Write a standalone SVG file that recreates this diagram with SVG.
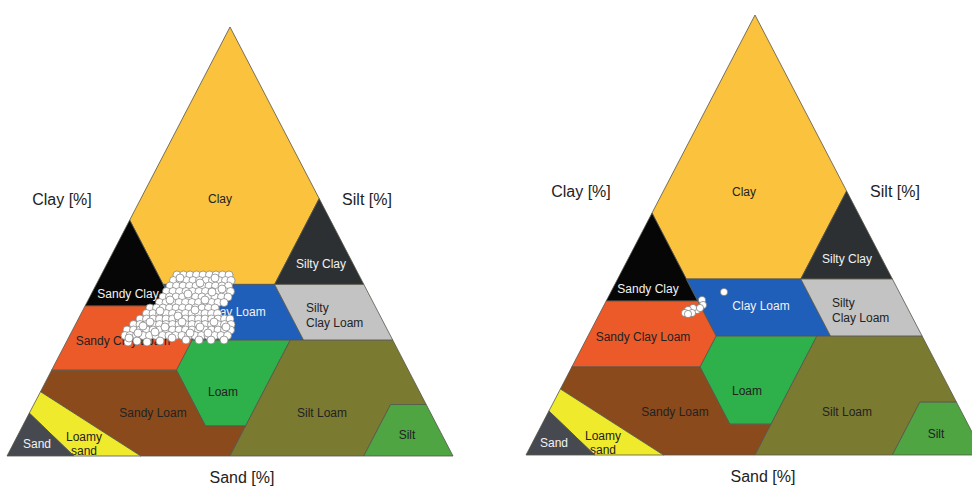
<svg xmlns="http://www.w3.org/2000/svg" width="972" height="486" viewBox="0 0 972 486">
<style>
.r{stroke:#55554a;stroke-width:0.8;stroke-linejoin:round}
.clay{fill:#FBC23E}.sic{fill:#2D3033}.sc{fill:#060606}.cl{fill:#1F5EB9}.sicl{fill:#C3C3C3}
.scl{fill:#EC5A29}.loam{fill:#2EB04B}.sl{fill:#8B4A1C}.sil{fill:#7B7A31}.si{fill:#4EA542}
.ls{fill:#F0EA2C}.sa{fill:#46494F}
text{font-family:"Liberation Sans",Arial,sans-serif}
.lb{font-size:12px;text-anchor:middle;fill:#222}
.lw{font-size:12px;text-anchor:middle;fill:#f2f2f2}
.ls2{font-size:12px;fill:#222}
.ax{font-size:16px;text-anchor:middle;fill:#222}
.pt{fill:#fff;stroke:#7a7a7a;stroke-width:0.7}
</style>
<rect width="972" height="486" fill="#fff"/>
<g id="left-triangle">
<g id="L-clay"><polygon class="r clay" points="163.1,284.4 129.7,220.1 230,27 319.2,198.6 274.6,284.4"/><text class="lb" x="220" y="203" font-size="11">Clay</text></g>
<g id="L-silty-clay"><polygon class="r sic" points="274.6,284.4 319.2,198.6 363.8,284.4"/><text class="lw" x="321" y="268">Silty Clay</text></g>
<g id="L-sandy-clay"><polygon class="r sc" points="85.1,305.9 129.7,220.1 163.1,284.4 174.3,305.9"/><text class="lw" x="128" y="298">Sandy Clay</text></g>
<g id="L-clay-loam"><polygon class="r cl" points="192.1,340.2 174.3,305.9 163.1,284.4 274.6,284.4 303.6,340.2"/><text class="lw" x="237" y="316" fill="#dde8ff">Clay Loam</text></g>
<g id="L-silty-clay-loam"><polygon class="r sicl" points="303.6,340.2 274.6,284.4 363.8,284.4 392.8,340.2"/><text class="ls2" x="306" y="312">Silty</text><text class="ls2" x="306" y="327">Clay Loam</text></g>
<g id="L-sandy-clay-loam"><polygon class="r scl" points="51.6,370.2 85.1,305.9 174.3,305.9 192.1,340.2 176.5,370.2"/><text class="lb" x="123" y="345" fill="#6a1006">Sandy Clay Loam</text></g>
<g id="L-loam"><polygon class="r loam" points="205.5,426 176.5,370.2 192.1,340.2 290.2,340.2 245.6,426"/><text class="lb" x="223" y="396" fill="#153515">Loam</text></g>
<g id="L-sandy-loam"><polygon class="r sl" points="40.5,391.7 51.6,370.2 176.5,370.2 205.5,426 245.6,426 230,456 140.8,456"/><text class="lb" x="153" y="417" fill="#2e1405">Sandy Loam</text></g>
<g id="L-silt-loam"><polygon class="r sil" points="230,456 245.6,426 290.2,340.2 392.8,340.2 426.2,404.5 390.6,404.5 363.8,456"/><text class="lb" x="322" y="417" fill="#222210">Silt Loam</text></g>
<g id="L-silt"><polygon class="r si" points="363.8,456 390.6,404.5 426.2,404.5 453,456"/><text class="lb" x="407" y="439" fill="#153515">Silt</text></g>
<g id="L-loamy-sand"><polygon class="r ls" points="29.3,413.1 40.5,391.7 140.8,456 73.9,456"/><text class="lb" x="84" y="441">Loamy</text><text class="lb" x="84" y="455">sand</text></g>
<g id="L-sand"><polygon class="r sa" points="7,456 29.3,413.1 73.9,456"/><text class="lw" x="37" y="448">Sand</text></g>
<g id="L-points">
<circle class="pt" r="4" cx="177" cy="275"/><circle class="pt" r="4" cx="183.5" cy="275"/><circle class="pt" r="4" cx="190" cy="275"/><circle class="pt" r="4" cx="196.5" cy="275"/><circle class="pt" r="4" cx="203" cy="275"/><circle class="pt" r="4" cx="209.5" cy="275"/><circle class="pt" r="4" cx="216" cy="275"/><circle class="pt" r="4" cx="222.5" cy="275"/><circle class="pt" r="4" cx="229" cy="275"/>
<circle class="pt" r="4" cx="173.5" cy="280.5"/><circle class="pt" r="4" cx="180" cy="280.5"/><circle class="pt" r="4" cx="186.5" cy="280.5"/><circle class="pt" r="4" cx="193" cy="280.5"/><circle class="pt" r="4" cx="199.5" cy="280.5"/><circle class="pt" r="4" cx="206" cy="280.5"/><circle class="pt" r="4" cx="212.5" cy="280.5"/><circle class="pt" r="4" cx="219" cy="280.5"/><circle class="pt" r="4" cx="225.5" cy="280.5"/><circle class="pt" r="4" cx="231" cy="280.5"/>
<circle class="pt" r="4" cx="170" cy="286"/><circle class="pt" r="4" cx="176.5" cy="286"/><circle class="pt" r="4" cx="183" cy="286"/><circle class="pt" r="4" cx="189.5" cy="286"/><circle class="pt" r="4" cx="196" cy="286"/><circle class="pt" r="4" cx="202.5" cy="286"/><circle class="pt" r="4" cx="209" cy="286"/><circle class="pt" r="4" cx="215.5" cy="286"/><circle class="pt" r="4" cx="222" cy="286"/><circle class="pt" r="4" cx="228.5" cy="286"/>
<circle class="pt" r="4" cx="166.5" cy="291.5"/><circle class="pt" r="4" cx="173" cy="291.5"/><circle class="pt" r="4" cx="179.5" cy="291.5"/><circle class="pt" r="4" cx="186" cy="291.5"/><circle class="pt" r="4" cx="192.5" cy="291.5"/><circle class="pt" r="4" cx="199" cy="291.5"/><circle class="pt" r="4" cx="205.5" cy="291.5"/><circle class="pt" r="4" cx="212" cy="291.5"/><circle class="pt" r="4" cx="218.5" cy="291.5"/><circle class="pt" r="4" cx="225" cy="291.5"/><circle class="pt" r="4" cx="230.5" cy="291.5"/>
<circle class="pt" r="4" cx="163" cy="297"/><circle class="pt" r="4" cx="169.5" cy="297"/><circle class="pt" r="4" cx="176" cy="297"/><circle class="pt" r="4" cx="182.5" cy="297"/><circle class="pt" r="4" cx="189" cy="297"/><circle class="pt" r="4" cx="195.5" cy="297"/><circle class="pt" r="4" cx="202" cy="297"/><circle class="pt" r="4" cx="208.5" cy="297"/><circle class="pt" r="4" cx="215" cy="297"/><circle class="pt" r="4" cx="221.5" cy="297"/><circle class="pt" r="4" cx="228" cy="297"/>
<circle class="pt" r="4" cx="159.5" cy="302.5"/><circle class="pt" r="4" cx="166" cy="302.5"/><circle class="pt" r="4" cx="172.5" cy="302.5"/><circle class="pt" r="4" cx="179" cy="302.5"/><circle class="pt" r="4" cx="185.5" cy="302.5"/><circle class="pt" r="4" cx="192" cy="302.5"/><circle class="pt" r="4" cx="198.5" cy="302.5"/><circle class="pt" r="4" cx="205" cy="302.5"/><circle class="pt" r="4" cx="211.5" cy="302.5"/><circle class="pt" r="4" cx="218" cy="302.5"/><circle class="pt" r="4" cx="224" cy="302.5"/>
<circle class="pt" r="4" cx="150" cy="308"/><circle class="pt" r="4" cx="156.5" cy="308"/><circle class="pt" r="4" cx="163" cy="308"/><circle class="pt" r="4" cx="169.5" cy="308"/><circle class="pt" r="4" cx="176" cy="308"/><circle class="pt" r="4" cx="182.5" cy="308"/><circle class="pt" r="4" cx="189" cy="308"/><circle class="pt" r="4" cx="195.5" cy="308"/><circle class="pt" r="4" cx="202" cy="308"/><circle class="pt" r="4" cx="208.5" cy="308"/><circle class="pt" r="4" cx="215" cy="308"/>
<circle class="pt" r="4" cx="146.5" cy="313.5"/><circle class="pt" r="4" cx="153" cy="313.5"/><circle class="pt" r="4" cx="159.5" cy="313.5"/><circle class="pt" r="4" cx="166" cy="313.5"/><circle class="pt" r="4" cx="172.5" cy="313.5"/><circle class="pt" r="4" cx="179" cy="313.5"/><circle class="pt" r="4" cx="185.5" cy="313.5"/><circle class="pt" r="4" cx="192" cy="313.5"/><circle class="pt" r="4" cx="198.5" cy="313.5"/><circle class="pt" r="4" cx="205" cy="313.5"/><circle class="pt" r="4" cx="211.5" cy="313.5"/><circle class="pt" r="4" cx="217.5" cy="313.5"/>
<circle class="pt" r="4" cx="140" cy="319"/><circle class="pt" r="4" cx="146.5" cy="319"/><circle class="pt" r="4" cx="153" cy="319"/><circle class="pt" r="4" cx="159.5" cy="319"/><circle class="pt" r="4" cx="166" cy="319"/><circle class="pt" r="4" cx="172.5" cy="319"/><circle class="pt" r="4" cx="179" cy="319"/><circle class="pt" r="4" cx="185.5" cy="319"/><circle class="pt" r="4" cx="192" cy="319"/><circle class="pt" r="4" cx="198.5" cy="319"/><circle class="pt" r="4" cx="205" cy="319"/><circle class="pt" r="4" cx="211.5" cy="319"/><circle class="pt" r="4" cx="218" cy="319"/><circle class="pt" r="4" cx="224.5" cy="319"/><circle class="pt" r="4" cx="230" cy="319"/>
<circle class="pt" r="4" cx="133.5" cy="324.5"/><circle class="pt" r="4" cx="140" cy="324.5"/><circle class="pt" r="4" cx="146.5" cy="324.5"/><circle class="pt" r="4" cx="153" cy="324.5"/><circle class="pt" r="4" cx="159.5" cy="324.5"/><circle class="pt" r="4" cx="166" cy="324.5"/><circle class="pt" r="4" cx="172.5" cy="324.5"/><circle class="pt" r="4" cx="179" cy="324.5"/><circle class="pt" r="4" cx="185.5" cy="324.5"/><circle class="pt" r="4" cx="192" cy="324.5"/><circle class="pt" r="4" cx="198.5" cy="324.5"/><circle class="pt" r="4" cx="205" cy="324.5"/><circle class="pt" r="4" cx="211.5" cy="324.5"/><circle class="pt" r="4" cx="218" cy="324.5"/><circle class="pt" r="4" cx="224.5" cy="324.5"/><circle class="pt" r="4" cx="231" cy="324.5"/>
<circle class="pt" r="4" cx="127" cy="330"/><circle class="pt" r="4" cx="133.5" cy="330"/><circle class="pt" r="4" cx="140" cy="330"/><circle class="pt" r="4" cx="146.5" cy="330"/><circle class="pt" r="4" cx="153" cy="330"/><circle class="pt" r="4" cx="159.5" cy="330"/><circle class="pt" r="4" cx="166" cy="330"/><circle class="pt" r="4" cx="172.5" cy="330"/><circle class="pt" r="4" cx="179" cy="330"/><circle class="pt" r="4" cx="185.5" cy="330"/><circle class="pt" r="4" cx="192" cy="330"/><circle class="pt" r="4" cx="198.5" cy="330"/><circle class="pt" r="4" cx="205" cy="330"/><circle class="pt" r="4" cx="211.5" cy="330"/><circle class="pt" r="4" cx="218" cy="330"/><circle class="pt" r="4" cx="224.5" cy="330"/><circle class="pt" r="4" cx="230.5" cy="330"/>
<circle class="pt" r="4" cx="125" cy="335.5"/><circle class="pt" r="4" cx="130" cy="335.5"/><circle class="pt" r="4" cx="136.5" cy="335.5"/><circle class="pt" r="4" cx="143" cy="335.5"/><circle class="pt" r="4" cx="149.5" cy="335.5"/><circle class="pt" r="4" cx="156" cy="335.5"/><circle class="pt" r="4" cx="162.5" cy="335.5"/><circle class="pt" r="4" cx="169" cy="335.5"/><circle class="pt" r="4" cx="175.5" cy="335.5"/><circle class="pt" r="4" cx="182" cy="335.5"/><circle class="pt" r="4" cx="188.5" cy="335.5"/><circle class="pt" r="4" cx="195" cy="335.5"/><circle class="pt" r="4" cx="201.5" cy="335.5"/><circle class="pt" r="4" cx="208" cy="335.5"/><circle class="pt" r="4" cx="214.5" cy="335.5"/><circle class="pt" r="4" cx="221" cy="335.5"/><circle class="pt" r="4" cx="227.5" cy="335.5"/>
<circle class="pt" r="4" cx="128" cy="342"/><circle class="pt" r="4" cx="137" cy="341"/><circle class="pt" r="4" cx="147" cy="342"/><circle class="pt" r="4" cx="160" cy="341"/><circle class="pt" r="4" cx="186" cy="340"/><circle class="pt" r="4" cx="199" cy="340"/><circle class="pt" r="4" cx="211" cy="340"/><circle class="pt" r="4" cx="224" cy="340"/>
<circle class="pt" r="4" cx="180" cy="278"/><circle class="pt" r="4" cx="200" cy="283"/><circle class="pt" r="4" cx="215" cy="278"/><circle class="pt" r="4" cx="212" cy="292"/><circle class="pt" r="4" cx="188" cy="294"/><circle class="pt" r="4" cx="205" cy="300"/><circle class="pt" r="4" cx="222" cy="289"/><circle class="pt" r="4" cx="170" cy="300"/><circle class="pt" r="4" cx="160" cy="311"/><circle class="pt" r="4" cx="178" cy="316"/><circle class="pt" r="4" cx="195" cy="310"/><circle class="pt" r="4" cx="150" cy="322"/><circle class="pt" r="4" cx="143" cy="326"/><circle class="pt" r="4" cx="165" cy="327"/><circle class="pt" r="4" cx="182" cy="322"/><circle class="pt" r="4" cx="200" cy="327"/><circle class="pt" r="4" cx="214" cy="322"/><circle class="pt" r="4" cx="226" cy="327"/><circle class="pt" r="4" cx="138" cy="333"/><circle class="pt" r="4" cx="155" cy="332"/><circle class="pt" r="4" cx="172" cy="338"/><circle class="pt" r="4" cx="190" cy="333"/><circle class="pt" r="4" cx="208" cy="333"/><circle class="pt" r="4" cx="129" cy="338"/>
</g>
</g>
<g id="right-triangle">
<g id="R-clay"><polygon class="r clay" points="686.3,279 652,213 755,15 846.6,191 800.8,279"/><text class="lb" x="744" y="196" font-size="11">Clay</text></g>
<g id="R-silty-clay"><polygon class="r sic" points="800.8,279 846.6,191 892.4,279"/><text class="lw" x="847" y="263">Silty Clay</text></g>
<g id="R-sandy-clay"><polygon class="r sc" points="606.2,301 652,213 686.3,279 697.8,301"/><text class="lw" x="648" y="293">Sandy Clay</text></g>
<g id="R-clay-loam"><polygon class="r cl" points="716.1,336.2 697.8,301 686.3,279 800.8,279 830.6,336.2"/><text class="lw" x="761" y="310" fill="#dde8ff">Clay Loam</text></g>
<g id="R-silty-clay-loam"><polygon class="r sicl" points="830.6,336.2 800.8,279 892.4,279 922.2,336.2"/><text class="ls2" x="832" y="307">Silty</text><text class="ls2" x="832" y="322">Clay Loam</text></g>
<g id="R-sandy-clay-loam"><polygon class="r scl" points="571.8,367 606.2,301 697.8,301 716.1,336.2 700,367"/><text class="lb" x="643" y="341" fill="#6a1006">Sandy Clay Loam</text></g>
<g id="R-loam"><polygon class="r loam" points="729.8,424.2 700,367 716.1,336.2 816.8,336.2 771,424.2"/><text class="lb" x="747" y="395" fill="#153515">Loam</text></g>
<g id="R-sandy-loam"><polygon class="r sl" points="560.4,389 571.8,367 700,367 729.8,424.2 771,424.2 755,455 663.4,455"/><text class="lb" x="675" y="416" fill="#2e1405">Sandy Loam</text></g>
<g id="R-silt-loam"><polygon class="r sil" points="755,455 771,424.2 816.8,336.2 922.2,336.2 956.5,402.2 919.9,402.2 892.4,455"/><text class="lb" x="847" y="416" fill="#222210">Silt Loam</text></g>
<g id="R-silt"><polygon class="r si" points="892.4,455 919.9,402.2 956.5,402.2 984,455"/><text class="lb" x="936" y="438" fill="#153515">Silt</text></g>
<g id="R-loamy-sand"><polygon class="r ls" points="548.9,411 560.4,389 663.4,455 594.7,455"/><text class="lb" x="603" y="440">Loamy</text><text class="lb" x="603" y="454">sand</text></g>
<g id="R-sand"><polygon class="r sa" points="526,455 548.9,411 594.7,455"/><text class="lw" x="554" y="447">Sand</text></g>
<g id="R-points">
<circle class="pt" r="3.6" cx="724" cy="292"/><circle class="pt" r="3.6" cx="702" cy="300"/><circle class="pt" r="3.6" cx="703" cy="305"/><circle class="pt" r="3.6" cx="697" cy="310"/><circle class="pt" r="3.6" cx="700" cy="308"/><circle class="pt" r="3.6" cx="693" cy="308"/><circle class="pt" r="3.6" cx="688" cy="310"/><circle class="pt" r="3.6" cx="692" cy="313"/><circle class="pt" r="3.6" cx="685" cy="313"/><circle class="pt" r="3.6" cx="688" cy="314"/>
</g>
</g>
<g id="axis-labels">
<text class="ax" x="62" y="205">Clay [%]</text>
<text class="ax" x="367" y="205">Silt [%]</text>
<text class="ax" x="242" y="483">Sand [%]</text>
<text class="ax" x="581" y="197">Clay [%]</text>
<text class="ax" x="895" y="197">Silt [%]</text>
<text class="ax" x="763" y="482">Sand [%]</text>
</g>
</svg>
